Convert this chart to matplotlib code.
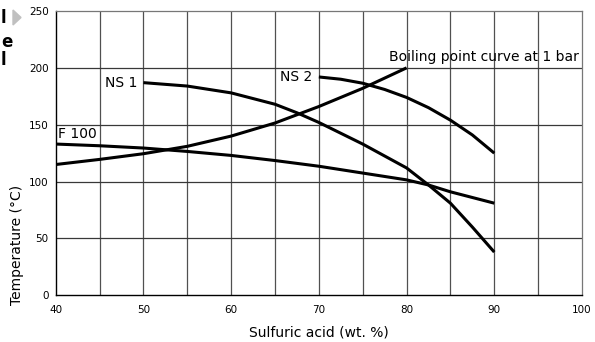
import matplotlib
matplotlib.use("Agg")
import matplotlib.pyplot as plt
from matplotlib.patches import Polygon

# values: sulfuric acid wt.% vs temperature (°C)
boil_x = [40, 45, 50, 55, 60, 65, 70, 75, 80]
boil_y = [115, 119.5, 124.5, 131, 140, 151.5, 166, 182, 200]

ns1_x = [50, 55, 60, 65, 67.5, 70, 75, 80, 82.5, 85, 87.5, 90]
ns1_y = [187, 184, 178, 168, 160.5, 152, 133, 112, 97, 81, 60, 38]

ns2_x = [70, 72.5, 75, 77.5, 80, 82.5, 85, 87.5, 90]
ns2_y = [192, 190, 186.5, 181, 174, 165, 154, 141, 125]

f100_x = [40, 45, 50, 55, 60, 65, 70, 75, 80, 82.5, 85, 90]
f100_y = [133, 131.5, 129.5, 126.5, 123, 118.5, 113.5, 107.5, 101.5, 97, 91, 81]

x_ticks = [40, 50, 60, 70, 80, 90, 100]
y_ticks = [0, 50, 100, 150, 200, 250]

W, H = 595, 342
fig = plt.figure(figsize=(W / 100, H / 100), dpi=100)
ax = fig.add_axes([55.7 / W, 1 - 295.3 / H, (582 - 55.7) / W, (295.3 - 11) / H])

ax.set_xlim(40, 100)
ax.set_ylim(0, 250)

# grid
for xv in range(45, 100, 5):
    ax.axvline(xv, color="#505050", lw=0.9, zorder=1)
for yv in range(50, 250, 50):
    ax.axhline(yv, color="#383838", lw=0.9, zorder=1)

for side in ["top", "right"]:
    ax.spines[side].set_color("#777777")
    ax.spines[side].set_linewidth(0.9)
for side in ["left", "bottom"]:
    ax.spines[side].set_color("black")
    ax.spines[side].set_linewidth(1.0)

curve_kw = dict(color="black", lw=2.2, solid_capstyle="butt",
                solid_joinstyle="round", zorder=3)
ax.plot(boil_x, boil_y, **curve_kw)
ax.plot(ns1_x, ns1_y, **curve_kw)
ax.plot(ns2_x, ns2_y, **curve_kw)
ax.plot(f100_x, f100_y, **curve_kw)

ax.set_xticks(x_ticks)
ax.set_yticks(y_ticks)
ax.tick_params(length=0, labelsize=7.5)
ax.tick_params(axis="x", pad=7)
ax.tick_params(axis="y", pad=5)

lbl = dict(fontsize=10, color="black", zorder=4)
ax.text(49.3, 187, "NS 1", ha="right", va="center", **lbl)
ax.text(69.3, 192, "NS 2", ha="right", va="center", **lbl)
ax.text(40.3, 136, "F 100", ha="left", va="bottom", **lbl)
ax.text(99.6, 203, "Boiling point curve at 1 bar", ha="right", va="bottom", **lbl)

fig.text(17 / W, 1 - 245 / H, "Temperature (°C)", rotation=90,
         ha="center", va="center", fontsize=10)
fig.text(319 / W, 1 - 332 / H, "Sulfuric acid (wt. %)",
         ha="center", va="center", fontsize=10)

# cropped page fragments on the far left
for ty, ch in [(18, "l"), (42, "e"), (60, "l")]:
    fig.text(1 / W, 1 - ty / H, ch, ha="left", va="center",
             fontsize=12, fontweight="bold")
fig.patches.append(Polygon([[13 / W, 1 - 10 / H], [13 / W, 1 - 25 / H],
                            [21 / W, 1 - 17.5 / H]], closed=True,
                           transform=fig.transFigure, color="#c0c0c0"))

fig.savefig("out.png", dpi=100)
